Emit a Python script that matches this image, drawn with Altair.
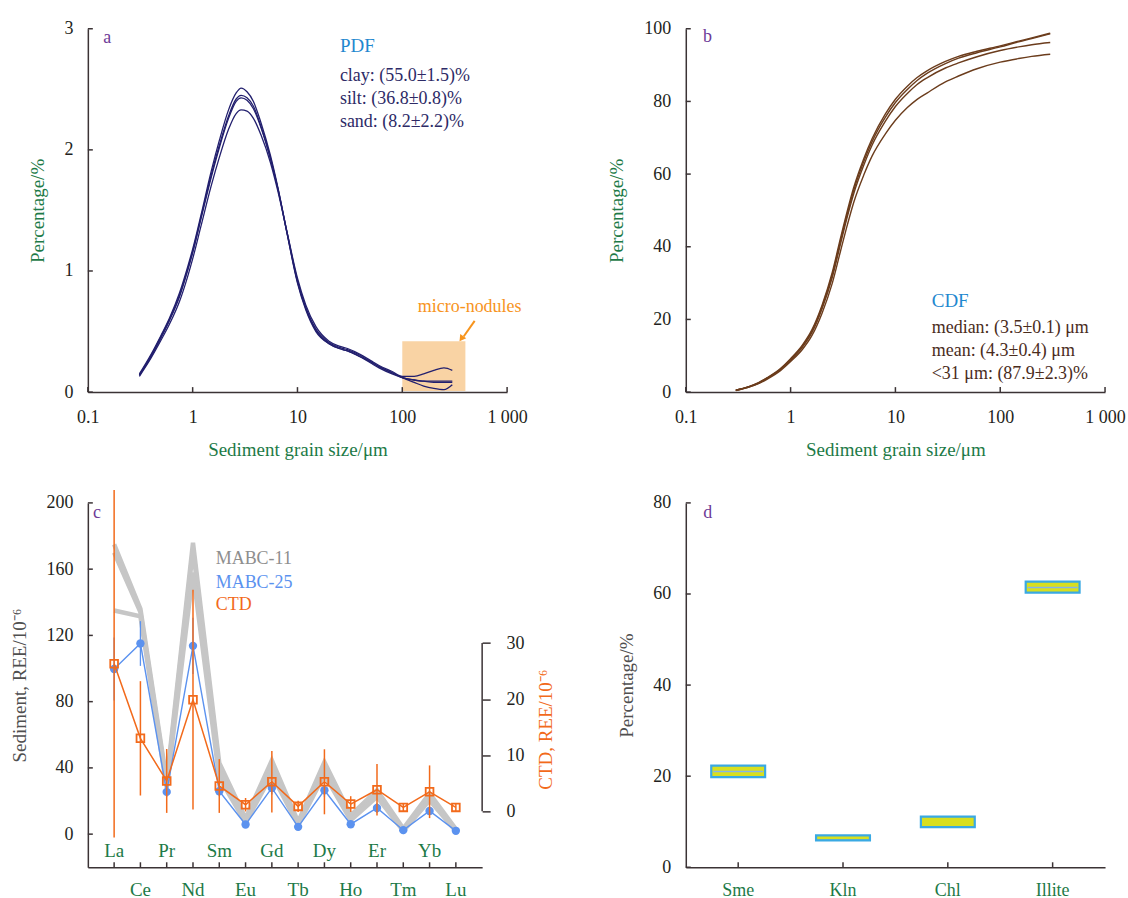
import altair as alt
import pandas as pd

FONT = "Liberation Serif"
GREEN = "#1d7a47"
PURPLE = "#6e3b97"
INK = "#231f20"
AXIS = "#3b3335"
TITLE_GRAY = "#4f4f4f"
NAVY = "#221f6e"
BROWN = "#6b3c1c"
PDF_TEXT = "#2d2a66"
CDF_TEXT = "#4a2c1c"
HEAD_BLUE = "#1f88cf"
PEACH = "#f9d3a4"
ORANGE_TXT = "#f7941d"
GRAY = "#c6c6c6"
GRAY_TXT = "#8e8e8e"
BLUE = "#5b92ef"
ORANGE = "#f26a1b"
YELLOW = "#d8df1f"
BOX_BLUE = "#3aa9e3"
MED_BLUE = "#86b6e6"

# ---------------- panel a: grain-size frequency (PDF) ----------------
pdf_size = [0.31, 0.4, 0.5, 0.6, 0.75, 0.9, 1.0, 1.2, 1.5, 1.8, 2.2, 2.6, 2.9, 3.3, 3.8,
            4.5, 5.5, 6.5, 8, 10, 12, 15, 20, 25, 30, 40, 50, 60, 80, 100, 130, 160, 200, 250, 300]
pdf_s1 = [0.15, 0.31, 0.47, 0.61, 0.82, 1.04, 1.18, 1.46, 1.82, 2.08, 2.33, 2.47, 2.51, 2.48, 2.40,
          2.22, 1.96, 1.69, 1.30, 0.90, 0.68, 0.50, 0.40, 0.36, 0.34, 0.29, 0.25, 0.21, 0.16, 0.12,
          0.08, 0.05, 0.03, 0.02, 0.06]
pdf_s2 = [0.14, 0.30, 0.46, 0.60, 0.80, 1.02, 1.16, 1.44, 1.79, 2.04, 2.28, 2.42, 2.45, 2.43, 2.36,
          2.19, 1.94, 1.68, 1.30, 0.91, 0.69, 0.51, 0.40, 0.36, 0.34, 0.29, 0.24, 0.20, 0.15, 0.12,
          0.10, 0.09, 0.09, 0.09, 0.09]
pdf_s3 = [0.14, 0.29, 0.45, 0.59, 0.79, 1.01, 1.15, 1.43, 1.77, 2.02, 2.26, 2.40, 2.43, 2.41, 2.34,
          2.18, 1.93, 1.68, 1.31, 0.92, 0.70, 0.52, 0.41, 0.37, 0.35, 0.30, 0.25, 0.21, 0.16, 0.12,
          0.10, 0.09, 0.08, 0.08, 0.08]
pdf_s4 = [0.13, 0.28, 0.43, 0.56, 0.75, 0.96, 1.10, 1.37, 1.70, 1.94, 2.17, 2.30, 2.33, 2.32, 2.26,
          2.12, 1.90, 1.66, 1.31, 0.94, 0.72, 0.54, 0.42, 0.38, 0.36, 0.31, 0.26, 0.22, 0.17, 0.13,
          0.13, 0.15, 0.18, 0.20, 0.18]
pdf_notes = ["clay: (55.0±1.5)%", "silt: (36.8±0.8)%", "sand: (8.2±2.2)%"]
nodule_size = [100, 400]
nodule_pct = [0.01, 0.42]

# ---------------- panel b: cumulative curves (CDF) ----------------
cdf_size = [0.3, 0.4, 0.5, 0.6, 0.8, 1.0, 1.3, 1.6, 2.0, 2.5, 3.0, 3.5, 4.0, 5.0, 6.0, 8.0,
            10, 13, 16, 20, 30, 40, 60, 100, 150, 200, 300]
cdf_s1 = [0.5, 1.5, 2.7, 4.0, 6.5, 9.2, 13.0, 17.2, 24.0, 33.0, 42.5, 50.2, 56.3, 64.3, 69.8, 76.5,
          80.6, 84.2, 86.5, 88.4, 91.0, 92.4, 93.8, 95.3, 96.6, 97.5, 98.8]
cdf_s2 = [0.5, 1.5, 2.6, 3.9, 6.3, 9.0, 12.7, 16.8, 23.5, 32.3, 41.7, 49.4, 55.5, 63.5, 69.0, 75.6,
          79.7, 83.3, 85.7, 87.7, 90.4, 91.9, 93.4, 95.0, 96.4, 97.3, 98.6]
cdf_s3 = [0.5, 1.4, 2.5, 3.8, 6.2, 8.8, 12.4, 16.4, 23.0, 31.6, 40.9, 48.6, 54.6, 62.5, 68.0, 74.5,
          78.6, 82.2, 84.6, 86.5, 89.2, 90.6, 92.3, 94.0, 95.0, 95.6, 96.2]
cdf_s4 = [0.4, 1.4, 2.4, 3.6, 5.9, 8.4, 11.8, 15.6, 21.8, 30.0, 38.9, 46.3, 52.2, 59.8, 65.0, 71.0,
          74.8, 78.3, 80.5, 82.3, 85.4, 87.0, 89.0, 90.8, 91.8, 92.4, 93.0]
cdf_notes = ["median: (3.5±0.1) μm", "mean: (4.3±0.4) μm", "<31 μm: (87.9±2.3)%"]

size_ticks = [0.1, 1, 10, 100, 1000]
pdf_ticks = [0, 1, 2, 3]
cdf_ticks = [0, 20, 40, 60, 80, 100]

# ---------------- panel c: rare earth elements ----------------
ree = ["La", "Ce", "Pr", "Nd", "Sm", "Eu", "Gd", "Tb", "Dy", "Ho", "Er", "Tm", "Yb", "Lu"]
mabc11_1 = [175, 136, 32, 176, 43, 9.4, 44.5, 7.4, 43.5, 11.4, 26.5, 3.4, 24.5, 3.0]
mabc11_2 = [170, 134, 30, 172, 39, 7.6, 40, 5.8, 39.5, 9.4, 24.5, 2.6, 22.5, 2.4]
mabc11_3 = [135, 131.5, 28, 158, 34, 7.0, 36, 5.4, 36, 8.4, 22.5, 1.9, 20.5, 1.9]
mabc25 = [99.7, 115.1, 25.5, 113.7, 25.9, 5.8, 27.9, 4.4, 26.5, 6.0, 15.8, 2.4, 14.0, 2.0]
mabc25_sd = [19, 13.5, 3, 17, 3, 1, 4, 1, 4, 1, 3, 0.5, 2, 0.5]
ctd = [26.3, 13.0, 5.4, 19.9, 4.5, 1.16, 5.25, 0.86, 5.25, 1.28, 3.83, 0.68, 3.47, 0.68]
ctd_sd = [31, 10.2, 5.7, 19.6, 4.8, 1.2, 5.5, 1.0, 5.8, 1.4, 4.6, 0.7, 4.7, 0.8]
ree_ticks_left = [0, 40, 80, 120, 160, 200]
ree_ticks_right = [0, 10, 20, 30]

# ---------------- panel d: clay minerals ----------------
minerals = ["Sme", "Kln", "Chl", "Illite"]
clay_low = [19.8, 5.9, 8.8, 60.3]
clay_high = [22.3, 7.0, 11.1, 62.7]
clay_mid = [21.0, 5.95, 8.85, 61.4]
clay_ticks = [0, 20, 40, 60, 80]

W_AB, H_AB = 420, 364
W_C, H_C = 395, 365
W_D, H_D = 420, 365

ONE = pd.DataFrame({"k": [0]})


def note(text, x, y, color, size=18, align="left", line_height=None):
    props = dict(text=text, font=FONT, fontSize=size, color=color, align=align, baseline="middle")
    if line_height is not None:
        props["lineHeight"] = line_height
    return alt.Chart(ONE).mark_text(**props).encode(x=alt.value(x), y=alt.value(y))


def long_frame(xs, series, xname, yname):
    rows = []
    for name, vals in series.items():
        for xv, yv in zip(xs, vals):
            rows.append({xname: xv, yname: yv, "sample": name})
    return pd.DataFrame(rows)


def y_axis(values, title, title_color, title_x, height):
    return alt.Axis(values=values, format="d", labelPadding=15, title=title, titleColor=title_color,
                    titleAngle=270, titleAlign="center", titleBaseline="middle",
                    titleX=title_x, titleY=height / 2)


def left_ticks(values, scale):
    # short inward tick marks along the left spine
    return alt.Chart(pd.DataFrame({"v": values})).mark_rule(color=AXIS, strokeWidth=1.5).encode(
        y=alt.Y("v:Q", scale=scale), x=alt.value(0), x2=alt.value(5))


x_log = alt.Scale(type="log", domain=[0.1, 1000], nice=False)
size_axis = alt.Axis(values=size_ticks,
                     labelExpr="datum.value >= 1000 ? '1 000' : format(datum.value, '~g')",
                     labelPadding=16, title="Sediment grain size/μm", titleColor=GREEN,
                     titleBaseline="middle", titleY=58)


def bottom_log_ticks(height):
    return alt.Chart(pd.DataFrame({"v": size_ticks})).mark_rule(color=AXIS, strokeWidth=1.5).encode(
        x=alt.X("v:Q", scale=x_log), y=alt.value(height), y2=alt.value(height - 5))


# ---- panel a ----
y_a = alt.Scale(domain=[0, 3], nice=False)
pdf_df = long_frame(pdf_size, {"s1": pdf_s1, "s2": pdf_s2, "s3": pdf_s3, "s4": pdf_s4}, "size", "pct")
nodule_box = alt.Chart(pd.DataFrame({"x0": [nodule_size[0]], "x1": [nodule_size[1]],
                                     "y0": [nodule_pct[0]], "y1": [nodule_pct[1]]})).mark_rect(
    color=PEACH).encode(x=alt.X("x0:Q", scale=x_log), x2="x1:Q",
                        y=alt.Y("y0:Q", scale=y_a), y2="y1:Q")
pdf_lines = alt.Chart(pdf_df).mark_line(color=NAVY, strokeWidth=1.3, interpolate="monotone").encode(
    x=alt.X("size:Q", scale=x_log, axis=size_axis),
    y=alt.Y("pct:Q", scale=y_a, axis=y_axis(pdf_ticks, "Percentage/%", GREEN, -50, H_AB)),
    detail="sample:N")
arrow_shaft = alt.Chart(ONE).mark_rule(color=ORANGE_TXT, strokeWidth=2).encode(
    x=alt.value(387.5), y=alt.value(292.7), x2=alt.value(376.5), y2=alt.value(308.3))
arrow_head = alt.Chart(ONE).mark_point(shape="triangle-up", filled=True, size=55, angle=215,
                                       color=ORANGE_TXT, opacity=1).encode(
    x=alt.value(374.2), y=alt.value(310.5))
panel_a = alt.layer(
    nodule_box, pdf_lines, bottom_log_ticks(H_AB), left_ticks(pdf_ticks, y_a),
    note("a", 19.5, 9, PURPLE, align="center"),
    note("PDF", 252.5, 17.7, HEAD_BLUE, size=19),
    note(pdf_notes, 252.5, 47.3, PDF_TEXT, line_height=23.3),
    note("micro-nodules", 382.5, 279, ORANGE_TXT, align="center"),
    arrow_shaft, arrow_head,
).properties(width=W_AB, height=H_AB)

# ---- panel b ----
y_b = alt.Scale(domain=[0, 100], nice=False)
cdf_df = long_frame(cdf_size, {"s1": cdf_s1, "s2": cdf_s2, "s3": cdf_s3, "s4": cdf_s4}, "size", "pct")
cdf_lines = alt.Chart(cdf_df).mark_line(color=BROWN, strokeWidth=1.4, interpolate="monotone").encode(
    x=alt.X("size:Q", scale=x_log, axis=size_axis),
    y=alt.Y("pct:Q", scale=y_b, axis=y_axis(cdf_ticks, "Percentage/%", GREEN, -69, H_AB)),
    detail="sample:N")
panel_b = alt.layer(
    cdf_lines, bottom_log_ticks(H_AB), left_ticks(cdf_ticks, y_b),
    note("b", 21.8, 8, PURPLE, align="center"),
    note("CDF", 246.4, 273, HEAD_BLUE, size=19),
    note(cdf_notes, 246.4, 299.7, CDF_TEXT, line_height=23.2),
).properties(width=W_AB, height=H_AB)

# ---- panel c ----
ree_idx = list(range(len(ree)))
x_c = alt.Scale(domain=[-1, len(ree)], nice=False, zero=False)
y_left = alt.Scale(domain=[-20, 200], nice=False, zero=False)
y_right = alt.Scale(domain=[-10, 55], nice=False, zero=False)

gray_df = long_frame(ree_idx, {"m1": mabc11_1, "m2": mabc11_2, "m3": mabc11_3}, "idx", "val")
blue_df = pd.DataFrame({"idx": ree_idx, "val": mabc25, "sd": mabc25_sd})
ctd_df = pd.DataFrame({"idx": ree_idx, "val": ctd, "sd": ctd_sd})
name_df = pd.DataFrame({"idx": ree_idx, "name": ree})

gray_lines = alt.Chart(gray_df).mark_line(color=GRAY, strokeWidth=4.5).encode(
    x=alt.X("idx:Q", scale=x_c, axis=alt.Axis(labels=False, title=None)),
    y=alt.Y("val:Q", scale=y_left,
            axis=y_axis(ree_ticks_left, "Sediment, REE/10⁻⁶", TITLE_GRAY, -68.3, H_C)),
    detail="sample:N")
blue_base = alt.Chart(blue_df).transform_calculate(lo="datum.val - datum.sd", hi="datum.val + datum.sd")
blue_err = blue_base.mark_rule(color=BLUE, strokeWidth=1.3).encode(
    x=alt.X("idx:Q", scale=x_c), y=alt.Y("lo:Q", scale=y_left), y2="hi:Q")
blue_line = blue_base.mark_line(color=BLUE, strokeWidth=1.4).encode(
    x=alt.X("idx:Q", scale=x_c), y=alt.Y("val:Q", scale=y_left))
blue_pts = blue_base.mark_circle(color=BLUE, size=70, opacity=1).encode(
    x=alt.X("idx:Q", scale=x_c), y=alt.Y("val:Q", scale=y_left))
names_in = alt.Chart(name_df).transform_filter("datum.idx % 2 == 0").mark_text(
    font=FONT, fontSize=19, color=GREEN, baseline="middle").encode(
    x=alt.X("idx:Q", scale=x_c), y=alt.datum(-10), text="name:N")
names_out = alt.Chart(name_df).transform_filter("datum.idx % 2 == 1").mark_text(
    font=FONT, fontSize=19, color=GREEN, baseline="middle").encode(
    x=alt.X("idx:Q", scale=x_c), y=alt.value(H_C + 22.5), text="name:N")
ree_xticks = alt.Chart(name_df).mark_rule(color=AXIS, strokeWidth=1.5).encode(
    x=alt.X("idx:Q", scale=x_c), y=alt.value(H_C), y2=alt.value(H_C - 5))

left_group = alt.layer(
    gray_lines, blue_err, blue_line, blue_pts, names_in, names_out, ree_xticks,
    left_ticks(ree_ticks_left, y_left),
    note("c", 9.1, 10, PURPLE, align="center"),
    note("MABC-11", 128.1, 56, GRAY_TXT),
    note("MABC-25", 128.1, 80, BLUE),
    note("CTD", 128.1, 102.7, ORANGE),
)

right_axis = alt.Axis(orient="right", values=ree_ticks_right, format="d", domain=False, ticks=True,
                      tickSize=8, tickColor=AXIS, tickWidth=1.5, labelPadding=16,
                      title="CTD, REE/10⁻⁶", titleColor=ORANGE, titleAngle=270,
                      titleAlign="center", titleBaseline="middle", titleX=63, titleY=226.7)
ctd_base = alt.Chart(ctd_df).transform_calculate(lo="datum.val - datum.sd", hi="datum.val + datum.sd")
ctd_err = ctd_base.mark_rule(color=ORANGE, strokeWidth=1.5).encode(
    x=alt.X("idx:Q", scale=x_c), y=alt.Y("lo:Q", scale=y_right, axis=right_axis), y2="hi:Q")
ctd_line = ctd_base.mark_line(color=ORANGE, strokeWidth=1.5).encode(
    x=alt.X("idx:Q", scale=x_c), y=alt.Y("val:Q", scale=y_right))
ctd_pts = ctd_base.mark_point(shape="square", filled=False, color=ORANGE, size=60, strokeWidth=1.8,
                              opacity=1).encode(
    x=alt.X("idx:Q", scale=x_c), y=alt.Y("val:Q", scale=y_right))
ctd_spine = alt.Chart(pd.DataFrame({"lo": [ree_ticks_right[0]], "hi": [ree_ticks_right[-1]]})).mark_rule(
    color=AXIS, strokeWidth=1.5).encode(
    x=alt.value(W_C), y=alt.Y("lo:Q", scale=y_right), y2="hi:Q")
right_group = alt.layer(ctd_err, ctd_spine, ctd_line, ctd_pts)

panel_c = alt.layer(left_group, right_group).resolve_scale(y="independent").properties(
    width=W_C, height=H_C)

# ---- panel d ----
clay_df = pd.DataFrame({"mineral": minerals, "lo": clay_low, "hi": clay_high, "mid": clay_mid})
x_band = alt.Scale(paddingInner=0.486, paddingOuter=0.243)
y_d = alt.Scale(domain=[0, 80], nice=False)
box_fill = alt.Chart(clay_df).mark_bar(fill=YELLOW, strokeWidth=0).encode(
    x=alt.X("mineral:N", sort=minerals, scale=x_band,
            axis=alt.Axis(labelAngle=0, labelColor=GREEN, labelPadding=14, title=None)),
    y=alt.Y("lo:Q", scale=y_d, axis=y_axis(clay_ticks, "Percentage/%", TITLE_GRAY, -59.7, H_D)),
    y2="hi:Q")
medians = alt.Chart(clay_df).mark_tick(color=MED_BLUE, thickness=1.5, size=50, opacity=1).encode(
    x=alt.X("mineral:N", sort=minerals, scale=x_band),
    y=alt.Y("mid:Q", scale=y_d))
box_edge = alt.Chart(clay_df).mark_bar(filled=False, stroke=BOX_BLUE, strokeWidth=2.2).encode(
    x=alt.X("mineral:N", sort=minerals, scale=x_band),
    y=alt.Y("lo:Q", scale=y_d), y2="hi:Q")
d_xticks = alt.Chart(clay_df).mark_rule(color=AXIS, strokeWidth=1.5).encode(
    x=alt.X("mineral:N", sort=minerals, scale=x_band),
    y=alt.value(H_D), y2=alt.value(H_D - 5))
panel_d = alt.layer(
    box_fill, medians, box_edge, d_xticks, left_ticks(clay_ticks, y_d),
    note("d", 21.9, 10, PURPLE, align="center"),
).properties(width=W_D, height=H_D)

chart = alt.concat(
    panel_a, panel_b, panel_c, panel_d,
    columns=2, spacing={"row": 111, "column": 179}, bounds="flush",
).properties(
    padding={"left": 10, "top": 19, "right": 2, "bottom": 2}
).configure_view(stroke=None).configure_axis(
    domainColor=AXIS, domainWidth=1.5, labelColor=INK, labelFont=FONT, labelFontSize=18,
    titleFont=FONT, titleFontSize=19, titleFontWeight="normal", grid=False, ticks=False,
    tickSize=0, labelFlush=False,
).configure_text(font=FONT)

chart.save("out.html", embed_options={"renderer": "svg", "actions": False})
